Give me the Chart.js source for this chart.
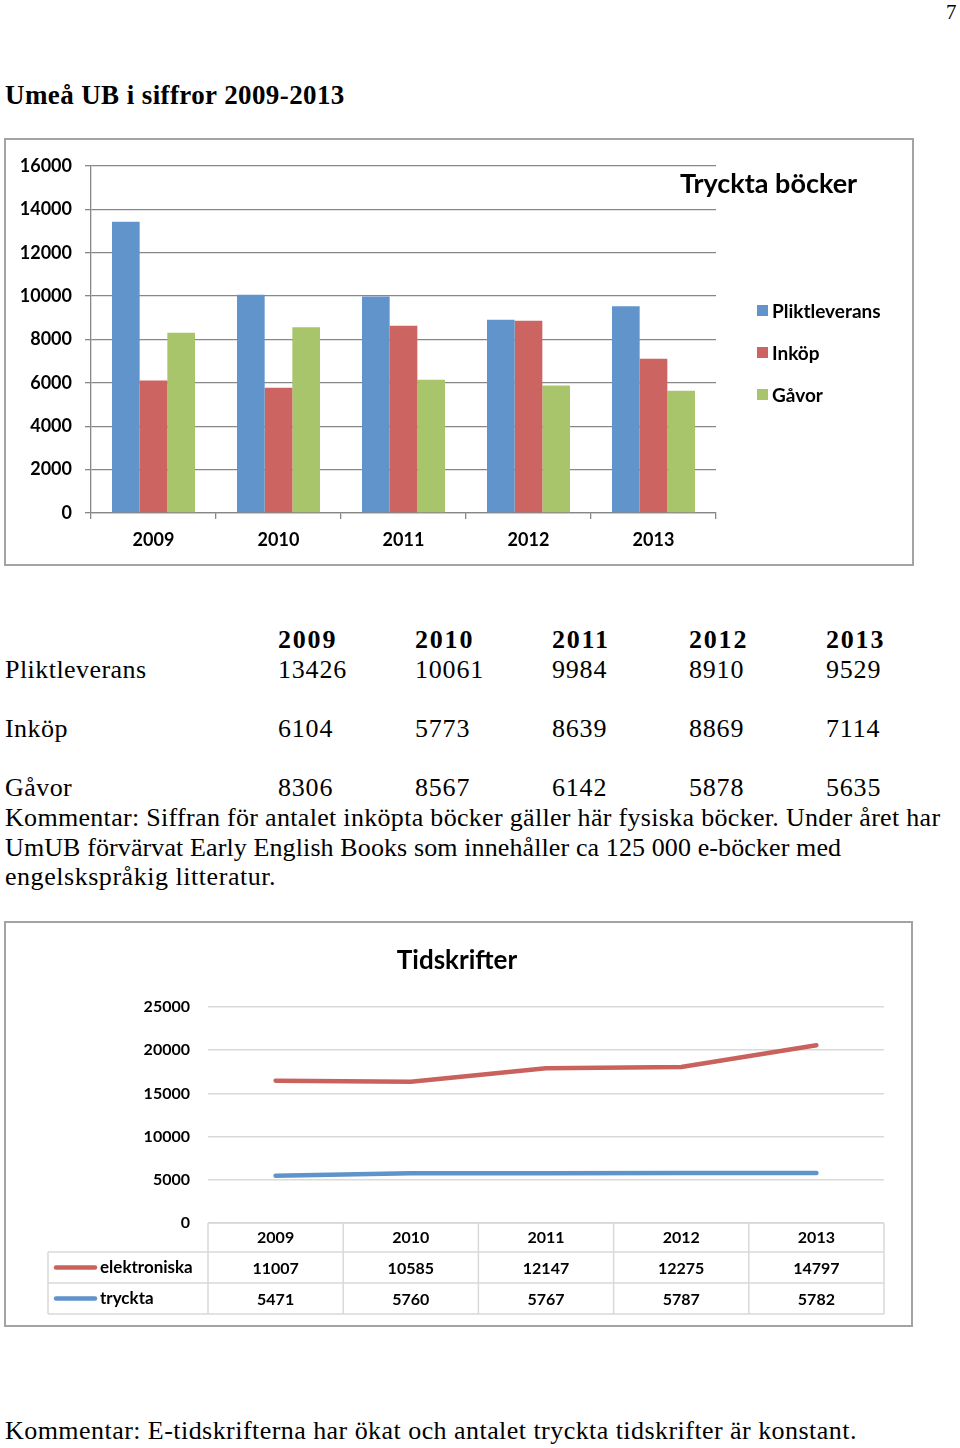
<!DOCTYPE html>
<html>
<head>
<meta charset="utf-8">
<script src="https://cdn.jsdelivr.net/npm/chart.js@4.4.1/dist/chart.umd.min.js"></script>
<style>
  body { margin: 0; background: #fff; }
  #page { position: relative; width: 960px; height: 1448px; overflow: hidden; font-family: "Liberation Serif", serif; color: #000; }
  .t { position: absolute; white-space: nowrap; font-size: 26px; line-height: 30px; }
  .box { position: absolute; border: 2px solid #a3a3a3; box-sizing: border-box; }
  canvas { position: absolute; }
</style>
</head>
<body>
<div id="page">
  <div class="t" style="left:946px;top:-3px;font-size:21px">7</div>
  <div class="t" style="left:5px;top:80px;font-weight:bold;font-size:27px;letter-spacing:0.4px">Umeå UB i siffror 2009-2013</div>

  <div class="box" style="left:4px;top:138px;width:910px;height:428px"></div>
  <canvas id="booksChart" width="905" height="423" style="left:6px;top:140px"></canvas>

  <div id="bookTable"></div>
  <div class="t" style="left:5px;top:803px;letter-spacing:0.31px">Kommentar: Siffran för antalet inköpta böcker gäller här fysiska böcker. Under året har</div>
  <div class="t" style="left:5px;top:833px;letter-spacing:0.11px">UmUB förvärvat Early English Books som innehåller ca 125 000 e-böcker med</div>
  <div class="t" style="left:5px;top:862px;letter-spacing:0.54px">engelskspråkig litteratur.</div>

  <div class="box" style="left:4px;top:921px;width:909px;height:406px"></div>
  <canvas id="journalChart" width="905" height="402" style="left:6px;top:923px"></canvas>

  <div class="t" style="left:5px;top:1416px;letter-spacing:0.45px">Kommentar: E-tidskrifterna har ökat och antalet tryckta tidskrifter är konstant.</div>
</div>

<script>
// data
const years = ['2009', '2010', '2011', '2012', '2013'];

const bookSeries = ['Pliktleverans', 'Inköp', 'Gåvor'];
const pliktleverans = [13426, 10061, 9984, 8910, 9529];
const inkop = [6104, 5773, 8639, 8869, 7114];
const gavor = [8306, 8567, 6142, 5878, 5635];

const journalSeries = ['elektroniska', 'tryckta'];
const elektroniska = [11007, 10585, 12147, 12275, 14797];
const tryckta = [5471, 5760, 5767, 5787, 5782];

const bookColors = ['#6094ca', '#cc6561', '#a9c56c'];
const lineRed = '#c9615d';
const lineBlue = '#5f93cb';

// text table between the charts
const tbl = document.getElementById('bookTable');
const colX = [278, 415, 552, 689, 826];
function addText(txt, x, y, bold, spacing) {
  const d = document.createElement('div');
  d.className = 't';
  d.style.left = x + 'px';
  d.style.top = y + 'px';
  if (bold) d.style.fontWeight = 'bold';
  if (spacing) d.style.letterSpacing = spacing + 'px';
  d.textContent = txt;
  tbl.appendChild(d);
}
years.forEach((y, i) => addText(y, colX[i], 625, true, 1.8));
[pliktleverans, inkop, gavor].forEach((row, r) => {
  const top = [655, 714, 773][r];
  addText(bookSeries[r], 5, top, false, 0.45);
  row.forEach((v, i) => addText(String(v), colX[i], top, false, 0.8));
});

// title + legend for the bar chart
const bookDecor = {
  id: 'bookDecor',
  afterDraw(chart) {
    const ctx = chart.ctx;
    ctx.save();
    ctx.textBaseline = 'middle';
    ctx.fillStyle = '#000';
    ctx.font = 'bold 27px Lato';
    ctx.fillText('Tryckta böcker', 674, 44);
    ctx.font = 'bold 19px Lato';
    chart.data.datasets.forEach((ds, i) => {
      const y = 171 + i * 42;
      ctx.fillStyle = ds.backgroundColor;
      ctx.fillRect(751, y - 6, 11, 11);
      ctx.fillStyle = '#000';
      ctx.fillText(ds.label, 766, y + 1);
    });
    ctx.restore();
  }
};

new Chart(document.getElementById('booksChart'), {
  type: 'bar',
  data: {
    labels: years,
    datasets: [pliktleverans, inkop, gavor].map((d, i) => ({
      label: bookSeries[i],
      data: d,
      backgroundColor: bookColors[i],
      categoryPercentage: 0.664,
      barPercentage: 1
    }))
  },
  options: {
    responsive: false,
    animation: false,
    devicePixelRatio: 1,
    layout: { padding: { left: 0, right: 195, top: 26, bottom: 0 } },
    plugins: { legend: { display: false }, tooltip: { enabled: false } },
    scales: {
      x: {
        grid: { drawOnChartArea: false, tickLength: 6, color: '#878787', lineWidth: 1.3 },
        border: { color: '#878787', width: 1.3 },
        ticks: { color: '#000', font: { family: 'Lato', weight: 'bold', size: 18 }, padding: 10, maxRotation: 0 },
        afterFit: s => { s.height = 50; }
      },
      y: {
        min: 0,
        max: 16000,
        grid: { color: '#878787', lineWidth: 1.3, tickLength: 6 },
        border: { color: '#878787', width: 1.3 },
        ticks: {
          stepSize: 2000, color: '#000', padding: 13,
          font: { family: 'Lato', weight: 'bold', size: 18 },
          callback: v => String(v)
        },
        afterFit: s => { s.width = 85; }
      }
    }
  },
  plugins: [bookDecor]
});

// title, data table grid and legend keys for the line chart
const journalDecor = {
  id: 'journalDecor',
  afterDraw(chart) {
    const { ctx, chartArea: a, scales: { x } } = chart;
    const rows = [0, 29, 60, 91].map(o => a.bottom + o);
    const keyLeft = 42;
    ctx.save();
    ctx.fillStyle = '#000';
    ctx.textBaseline = 'middle';
    ctx.textAlign = 'center';
    ctx.font = 'bold 26px Lato';
    ctx.fillText('Tidskrifter', 451, 38);

    ctx.strokeStyle = '#d9d9d9';
    ctx.lineWidth = 1.5;
    ctx.beginPath();
    ctx.moveTo(a.left, rows[0]); ctx.lineTo(a.right, rows[0]);
    for (let r = 1; r < rows.length; r++) {
      ctx.moveTo(keyLeft, rows[r]); ctx.lineTo(a.right, rows[r]);
    }
    const cols = [a.left];
    for (let i = 0; i < years.length - 1; i++) {
      cols.push((x.getPixelForTick(i) + x.getPixelForTick(i + 1)) / 2);
    }
    cols.push(a.right);
    cols.forEach(cx => { ctx.moveTo(cx, rows[0]); ctx.lineTo(cx, rows[3]); });
    ctx.moveTo(keyLeft, rows[1]); ctx.lineTo(keyLeft, rows[3]);
    ctx.stroke();

    // keys: elektroniska first, then tryckta
    const keyed = [chart.data.datasets[1], chart.data.datasets[0]];
    ctx.textAlign = 'left';
    ctx.font = 'bold 17px Lato';
    keyed.forEach((ds, r) => {
      const y = (rows[r + 1] + rows[r + 2]) / 2;
      ctx.strokeStyle = ds.borderColor;
      ctx.lineWidth = 4.5;
      ctx.lineCap = 'round';
      ctx.beginPath();
      ctx.moveTo(50, y); ctx.lineTo(89, y);
      ctx.stroke();
      ctx.fillStyle = '#000';
      ctx.fillText(ds.label, 94, y);
    });
    ctx.restore();
  }
};

new Chart(document.getElementById('journalChart'), {
  type: 'line',
  data: {
    labels: years,
    datasets: [
      { label: journalSeries[1], data: tryckta, borderColor: lineBlue },
      { label: journalSeries[0], data: elektroniska, borderColor: lineRed }
    ].map(ds => Object.assign(ds, {
      borderWidth: 4.5, pointRadius: 0, fill: false, tension: 0,
      borderCapStyle: 'round', borderJoinStyle: 'round'
    }))
  },
  options: {
    responsive: false,
    animation: false,
    devicePixelRatio: 1,
    layout: { padding: { left: 0, right: 27, top: 84, bottom: 0 } },
    plugins: { legend: { display: false }, tooltip: { enabled: false } },
    scales: {
      x: {
        offset: true,
        grid: { display: false },
        border: { display: false },
        ticks: {
          color: '#000',
          font: { family: 'Lato', weight: 'bold', size: 16, lineHeight: 31 / 16 },
          padding: -9,
          maxRotation: 0,
          autoSkip: false,
          callback: (v, i) => [years[i], String(elektroniska[i]), String(tryckta[i])]
        },
        afterFit: s => { s.height = 102; }
      },
      y: {
        stacked: true,
        min: 0,
        max: 25000,
        grid: { color: '#d9d9d9', lineWidth: 1.5, drawTicks: false },
        border: { display: false },
        ticks: {
          stepSize: 5000, color: '#000', padding: 18,
          font: { family: 'Lato', weight: 'bold', size: 16 },
          callback: v => String(v)
        },
        afterFit: s => { s.width = 202; }
      }
    }
  },
  plugins: [journalDecor]
});
</script>
</body>
</html>
